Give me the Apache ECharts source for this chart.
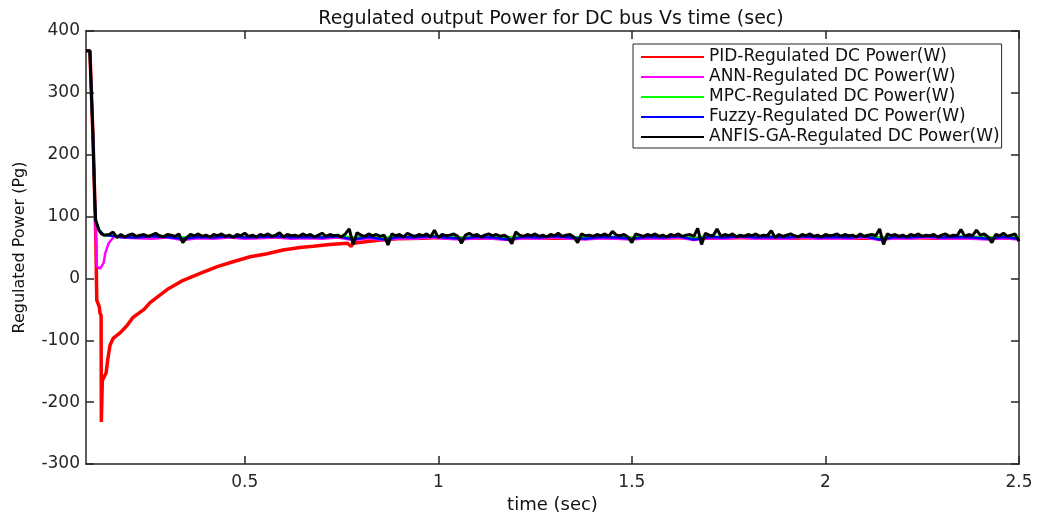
<!DOCTYPE html>
<html><head><meta charset="utf-8">
<script src="https://cdn.jsdelivr.net/npm/echarts@6/dist/echarts.min.js"></script>
<style>html,body{margin:0;padding:0;background:#fff}#c{width:1038px;height:516px}</style>
</head><body><div id="c"></div>
<script>
const chartTitle = 'Regulated output Power for DC bus Vs time (sec)';
const xName = 'time (sec)';
const yName = 'Regulated Power (Pg)';
const seriesNames = ['PID-Regulated DC Power(W)','ANN-Regulated DC Power(W)','MPC-Regulated DC Power(W)','Fuzzy-Regulated DC Power(W)','ANFIS-GA-Regulated DC Power(W)'];
const seriesColors = ['#ff0000','#ff00ff','#00ff00','#0000ff','#000000'];
const xTickValues = [0.5, 1, 1.5, 2, 2.5];
const xMin = 0.09, xMax = 2.5;
const yMin = -300, yMax = 400, yStep = 100;

// PID (red) readings [time, power]
const redData = [[0.09,368],[0.1,368],[0.108,230],[0.113,120],[0.1155,60],[0.1178,-35],[0.1243,-46],[0.1262,-56],[0.129,-60],[0.1296,-232],[0.1322,-165],[0.1419,-153],[0.146,-132],[0.152,-108],[0.16,-97],[0.178,-88],[0.196,-76],[0.2115,-63],[0.24,-50],[0.2555,-39],[0.2995,-18],[0.341,-3],[0.385,8],[0.429,19],[0.47,27],[0.514,35],[0.558,40],[0.599,46],[0.643,50],[0.677,52],[0.72,55],[0.765,57],[0.775,52],[0.78,57],[0.85,62],[0.894,64],[0.961,65],[1.0,66],[1.1,65],[1.2,66],[1.3,65],[1.4,66],[1.5,65],[1.6,66],[1.7,65],[1.8,66],[1.9,65],[2.0,66],[2.1,65],[2.2,66],[2.3,65],[2.4,66],[2.5,65]];

// ANN (magenta) transient readings, then coarse steady readings
const magentaEarly = [[0.09,368],[0.1,368],[0.108,230],[0.113,120],[0.1155,62],[0.118,19],[0.1268,16],[0.1355,25],[0.1399,41],[0.1485,57],[0.1614,67],[0.17,68]];
const coarseStart = 0.18, coarseStep = 0.04;
const magentaSteady = [66,65,64,66,62,65,64,66,64,65,
  66,64,65,64,66,62,65,62,65,64,
  66,64,63,65,64,62,65,64,66,64,
  63,65,64,63,65,64,66,62,65,64,
  66,64,65,64,66,64,65,64,66,62,
  65,64,66,64,65,64,63,65,63];

// MPC (green)
const greenEarly = [[0.09,368],[0.1,368],[0.108,230],[0.113,120],[0.115,94],[0.1236,78],[0.1365,70],[0.17,69]];
const greenSteady = [68,67,69,68,66,68,67,69,67,68,
  69,67,68,67,69,66,68,66,68,67,
  69,67,66,68,67,66,68,67,69,67,
  66,68,67,66,68,67,69,66,68,67,
  69,67,68,67,69,67,68,67,69,66,
  68,67,69,67,68,67,66,68,66];

// Fuzzy (blue)
const blueEarly = [[0.09,368],[0.1,368],[0.108,230],[0.113,120],[0.115,94],[0.1236,78],[0.1365,70],[0.17,68]];
const blueSteady = [67,66,68,67,64,67,66,68,66,67,
  68,66,67,66,68,63,67,63,67,66,
  68,66,64,67,66,63,67,66,68,66,
  64,67,66,64,67,66,68,63,67,66,
  68,66,67,66,68,66,67,66,68,63,
  67,66,68,66,67,66,64,67,64];

// ANFIS-GA (black)
const blackEarly = [[0.09,368],[0.1,368],[0.108,230],[0.113,120],[0.115,94],[0.1236,78],[0.13,72],[0.1365,70]];
const fineStart = 0.14, fineStep = 0.01;
const blackSteady = [70,71,75,66,71,67,70,72,68,70,
  71,68,70,73,69,67,71,70,68,72,
  58,66,71,69,72,68,70,67,71,69,
  72,68,70,66,71,69,73,68,70,67,
  71,69,72,68,70,74,67,71,69,70,
  68,72,69,71,67,70,73,68,71,69,
  70,67,72,80,55,74,70,68,72,69,
  71,68,70,54,72,69,71,67,73,70,
  68,71,69,72,67,78,66,71,69,70,
  72,68,57,70,73,69,71,67,70,72,
  69,71,68,70,66,56,75,70,68,71,
  69,72,68,70,67,71,69,73,68,70,
  71,67,58,72,69,70,68,71,69,72,
  68,76,70,69,71,67,58,72,70,68,
  71,69,72,68,70,67,71,69,72,68,
  70,71,68,81,55,73,70,69,80,68,
  71,69,72,67,70,68,71,69,72,68,
  70,69,77,66,71,68,70,72,69,67,
  71,69,72,68,70,67,71,69,70,72,
  68,71,69,70,67,72,68,70,71,69,
  80,55,72,69,71,68,70,67,71,69,
  72,68,70,69,71,67,70,72,68,70,
  69,79,68,71,69,78,70,72,67,58,
  71,69,73,68,70,72,60];

function gridPairs(start, step, vals) {
  return vals.map((v, i) => [Math.round((start + i * step) * 10000) / 10000, v]);
}
const seriesData = [
  redData,
  magentaEarly.concat(gridPairs(coarseStart, coarseStep, magentaSteady)),
  greenEarly.concat(gridPairs(coarseStart, coarseStep, greenSteady)),
  blueEarly.concat(gridPairs(coarseStart, coarseStep, blueSteady)),
  blackEarly.concat(gridPairs(fineStart, fineStep, blackSteady))
];
const lineWidths = [3.5, 2.5, 2.5, 2.5, 3];

const FONT = 'DejaVu Sans';
const AX = '#262626';
const chart = echarts.init(document.getElementById('c'), null, {renderer: 'canvas'});
const tickCommon = {show: true, inside: true, length: 8, lineStyle: {color: AX, width: 1.5}};
chart.setOption({
  animation: false,
  backgroundColor: '#fff',
  title: {text: chartTitle, left: 546, top: 5, textAlign: 'center',
    textStyle: {fontFamily: FONT, fontSize: 19, fontWeight: 'normal', color: '#111'}},
  grid: {left: 86, right: 19, top: 31, bottom: 52, containLabel: false, outerBoundsMode: 'none'},
  legend: {orient: 'vertical', left: 633, top: 44, padding: [3, 2, 1, 8], itemGap: 0,
    itemWidth: 63, itemHeight: 2, icon: 'rect', borderColor: AX, borderWidth: 1,
    backgroundColor: '#fff', data: seriesNames,
    textStyle: {fontFamily: FONT, fontSize: 17, color: '#111', lineHeight: 20}},
  xAxis: [
    {type: 'value', min: xMin, max: xMax, position: 'bottom',
      name: xName, nameLocation: 'middle', nameGap: 32,
      nameTextStyle: {fontFamily: FONT, fontSize: 18, color: '#111'},
      axisLine: {show: true, onZero: false, lineStyle: {color: AX, width: 1.5}},
      axisTick: Object.assign({customValues: xTickValues}, tickCommon),
      axisLabel: {customValues: xTickValues, margin: 10, fontFamily: FONT, fontSize: 17, color: AX},
      splitLine: {show: false}},
    {type: 'value', min: xMin, max: xMax, position: 'top',
      axisLine: {show: true, onZero: false, lineStyle: {color: AX, width: 1.5}},
      axisTick: Object.assign({customValues: xTickValues}, tickCommon),
      axisLabel: {show: false}, splitLine: {show: false}}
  ],
  yAxis: [
    {type: 'value', min: yMin, max: yMax, interval: yStep, position: 'left',
      name: yName, nameLocation: 'middle', nameGap: 58, nameRotate: 90,
      nameTextStyle: {fontFamily: FONT, fontSize: 16, color: '#111'},
      axisLine: {show: true, onZero: false, lineStyle: {color: AX, width: 1.5}},
      axisTick: tickCommon,
      axisLabel: {margin: 6, fontFamily: FONT, fontSize: 17, color: AX},
      splitLine: {show: false}},
    {type: 'value', min: yMin, max: yMax, interval: yStep, position: 'right',
      axisLine: {show: true, onZero: false, lineStyle: {color: AX, width: 1.5}},
      axisTick: tickCommon, axisLabel: {show: false}, splitLine: {show: false}}
  ],
  series: seriesNames.map((n, i) => ({
    name: n, type: 'line', data: seriesData[i], showSymbol: false, symbol: 'none',
    xAxisIndex: 0, yAxisIndex: 0, color: seriesColors[i],
    lineStyle: {color: seriesColors[i], width: lineWidths[i]}, z: 2 + i
  }))
});
</script></body></html>
